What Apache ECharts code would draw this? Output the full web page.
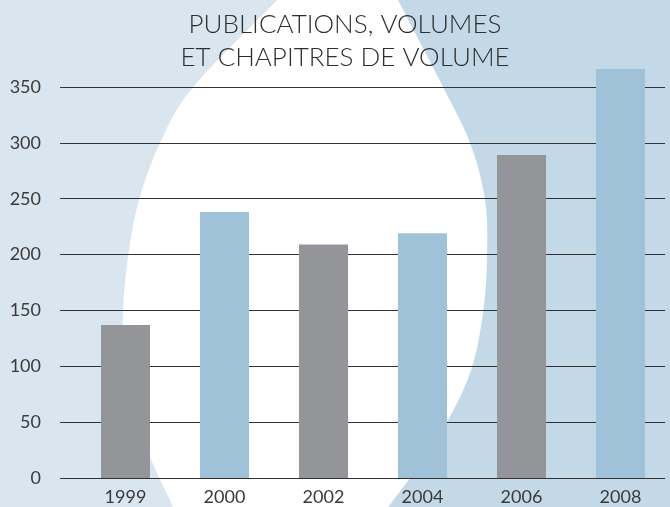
<!DOCTYPE html>
<html>
<head>
<meta charset="utf-8">
<script src="https://cdn.jsdelivr.net/npm/echarts@6/dist/echarts.min.js"></script>
<style>
  html, body { margin: 0; padding: 0; }
  #chart { width: 670px; height: 507px; }
</style>
</head>
<body>
<div id="chart"></div>
<script>
// chart data
const years = ['1999', '2000', '2002', '2004', '2006', '2008'];
const counts = [137, 238, 209, 219, 289, 366];
const barColors = ['#939598', '#a0c2d9', '#939598', '#a0c2d9', '#939598', '#a0c2d9'];
const titleLines = ['PUBLICATIONS, VOLUMES', 'ET CHAPITRES DE VOLUME'];

const FONT = 'Lato, "Open Sans", sans-serif';

// outline of the white shape behind the chart (decoration only)
const eggRight = [[382, -30], [398, 0], [443, 87], [470, 143], [485, 200], [487, 257], [483, 313], [472, 367], [452, 413], [425, 457], [388, 507], [360, 540]];
const eggLeft = [[187, 540], [173, 507], [150, 457], [135, 413], [125, 367], [123, 313], [128, 257], [139, 200], [160, 143], [193, 87], [277, 0], [306, -30]];

// closed Catmull-Rom curve through the traced points
function smoothLoop(pts, steps) {
  const out = [];
  const n = pts.length;
  for (let i = 0; i < n; i++) {
    const p0 = pts[(i - 1 + n) % n], p1 = pts[i], p2 = pts[(i + 1) % n], p3 = pts[(i + 2) % n];
    for (let s = 0; s < steps; s++) {
      const t = s / steps, t2 = t * t, t3 = t2 * t;
      const f = (a, b, c, d) => 0.5 * (2 * b + (-a + c) * t + (2 * a - 5 * b + 4 * c - d) * t2 + (-a + 3 * b - 3 * c + d) * t3);
      out.push([f(p0[0], p1[0], p2[0], p3[0]), f(p0[1], p1[1], p2[1], p3[1])]);
    }
  }
  return out;
}

const chart = echarts.init(document.getElementById('chart'), null, { renderer: 'canvas' });

// bars live in a second grid whose scale matches the first one but reaches 400,
// so the 2008 bar can rise above the 350 line like in the original
chart.setOption({
  animation: false,
  backgroundColor: '#c4d9e7',
  graphic: [
    { type: 'rect', z: -10, shape: { x: 0, y: 0, width: 290, height: 507 }, style: { fill: '#d9e5ef' } },
    { type: 'polygon', z: -9, shape: { points: smoothLoop(eggRight.concat(eggLeft), 10) }, style: { fill: '#ffffff' } }
  ],
  title: {
    text: titleLines.join('\n'),
    left: 340,
    top: 3,
    textAlign: 'center',
    textStyle: {
      fontFamily: FONT,
      fontSize: 26,
      fontWeight: 300,
      lineHeight: 33,
      color: '#2e2e2e'
    }
  },
  grid: [
    { left: 60, right: 5, top: 87, bottom: 29 },
    { left: 76, right: -1, top: 31.1, bottom: 29 }
  ],
  xAxis: [
    { gridIndex: 0, type: 'category', data: years, show: false },
    {
      gridIndex: 1,
      type: 'category',
      data: years,
      axisLine: { show: false },
      axisTick: { show: false },
      axisLabel: { fontFamily: FONT, fontSize: 18, color: '#3a3a3a', margin: 10 }
    }
  ],
  yAxis: [
    {
      gridIndex: 0,
      type: 'value',
      min: 0,
      max: 350,
      interval: 50,
      axisLine: { show: false },
      axisTick: { show: false },
      axisLabel: { fontFamily: FONT, fontSize: 18, color: '#3a3a3a', margin: 19 },
      splitLine: { lineStyle: { color: '#333333', width: 1.2 } }
    },
    { gridIndex: 1, type: 'value', min: 0, max: 400, show: false, splitLine: { show: false } }
  ],
  series: [
    {
      type: 'bar',
      xAxisIndex: 1,
      yAxisIndex: 1,
      barWidth: 49,
      data: counts.map((v, i) => ({ value: v, itemStyle: { color: barColors[i] } }))
    }
  ]
});
</script>
</body>
</html>
